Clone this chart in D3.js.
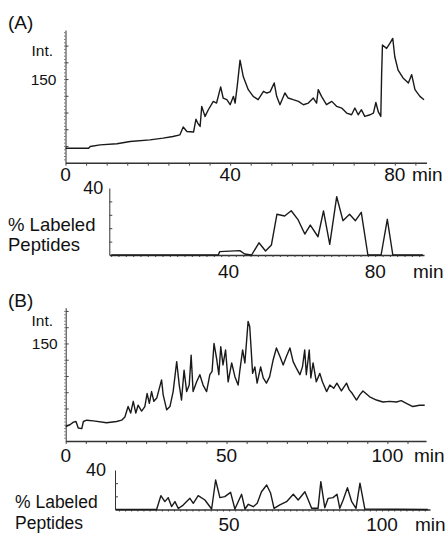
<!DOCTYPE html>
<html>
<head>
<meta charset="utf-8">
<script src="https://cdn.jsdelivr.net/npm/d3@7"></script>
<style>
body { margin: 0; background: #fff; }
svg text { font-family: "Liberation Sans", Arial, Helvetica, sans-serif; fill: #111; }
</style>
</head>
<body>
<svg id="chart" width="448" height="534"></svg>
<script>
// (A) total ion current, min vs intensity
var timeA = [0, 5.6, 6.0, 8.4, 12.5, 15.7, 20.5, 23.7, 26.1, 27.8, 28.6, 29.5, 31.1, 31.7, 32.2, 32.7,
    33.1, 33.9, 34.7, 35.9, 36.7, 37.7, 38.3, 39.2, 40.0, 40.8, 41.2, 41.7, 42.4, 43.2, 44.4, 45.6,
    46.8, 48.1, 48.9, 49.7, 50.7, 51.3, 52.1, 53.3, 54.1, 55.3, 56.6, 57.8, 59.0, 60.2, 61.0, 61.4,
    62.2, 63.4, 64.7, 65.9, 67.1, 68.3, 69.5, 70.3, 71.1, 71.9, 72.7, 74.0, 74.8, 75.4, 76.0, 76.6,
    76.8, 77.0, 78.0, 78.8, 79.5, 80.0, 80.8, 82.0, 83.3, 84.1, 84.9, 86.1, 87.1];
var intA = [26, 26, 29, 32, 34, 38, 41, 44, 47, 50, 64, 56, 55, 78, 70, 65,
    101, 83, 95, 110, 107, 136, 116, 113, 104, 119, 107, 136, 184, 154, 131, 119,
    113, 128, 125, 127, 143, 119, 104, 125, 116, 113, 110, 104, 107, 116, 107, 131,
    119, 104, 110, 101, 98, 89, 86, 98, 86, 95, 83, 86, 89, 108, 91, 83,
    158, 211, 205, 214, 223, 190, 166, 152, 143, 158, 131, 119, 113];

// (A) % labeled peptides
var timeAL = [8, 37.2, 37.6, 43.1, 44.4, 46.3, 48.3, 50.1, 51.7, 53.2, 55.3, 57.1, 58.9, 60.8, 62.3,
    64.4, 65.9, 67.6, 69.5, 71.2, 73.0, 74.6, 76.2, 78.0, 81.6, 83.3, 84.8, 93];
var pctA = [0, 0, 2, 2.6, 0.6, 0, 7.3, 2.4, 6, 24.3, 23.3, 26.4, 21.3, 12.5, 17.9,
    10.9, 26.3, 6.4, 34.8, 20.5, 24.3, 20.5, 25.5, 0, 0, 21.3, 0, 0];

// (B) total ion current
var timeB = [0.0, 1.3, 2.4, 3.2, 3.9, 5.0, 5.5, 6.5, 8.6, 12.7, 15.8, 17.4, 18.4, 19.4, 20.2, 21.0,
    21.8, 22.5, 23.6, 24.6, 25.3, 26.0, 26.7, 27.4, 28.3, 29.1, 29.8, 30.3, 31.4, 32.4, 33.4, 34.5,
    35.3, 36.0, 36.8, 37.6, 38.4, 39.0, 39.6, 40.7, 41.7, 42.7, 43.8, 44.8, 45.5, 46.1, 46.9, 47.6,
    48.2, 48.9, 49.7, 50.5, 51.6, 52.6, 53.6, 54.1, 55.0, 55.7, 56.7, 57.2, 57.5, 58.1, 58.8, 59.5,
    60.6, 61.4, 62.4, 63.4, 64.5, 65.5, 66.6, 67.6, 68.6, 69.7, 70.7, 71.7, 72.8, 73.6, 74.3, 74.8,
    75.7, 76.2, 76.9, 77.9, 79.0, 79.8, 81.1, 82.1, 83.3, 84.3, 85.7, 87.3, 88.1, 89.1, 90.4, 91.4,
    92.4, 94.5, 96.6, 98.6, 100.7, 102.8, 104.3, 105.9, 107.9, 110.0, 111.6];
var intB = [22, 25, 29, 30, 20, 19, 30, 32, 31, 28, 30, 32, 37, 53, 43, 61,
    43, 55, 46, 53, 73, 58, 76, 61, 66, 81, 94, 71, 48, 53, 76, 122,
    86, 63, 109, 76, 86, 132, 76, 91, 102, 86, 76, 102, 107, 150, 127, 102,
    145, 117, 140, 91, 120, 99, 86, 107, 140, 120, 184, 176, 153, 104, 114, 89,
    114, 97, 89, 99, 125, 143, 130, 117, 130, 143, 122, 112, 102, 114, 140, 102,
    140, 97, 120, 91, 104, 91, 76, 86, 81, 89, 77, 89, 79, 73, 63, 71,
    77, 68, 63, 60, 61, 60, 62, 58, 53, 55, 55];

// (B) % labeled peptides
var timeBL = [13, 26.3, 27.7, 29.0, 30.1, 31.2, 32.3, 33.4, 35.0, 37.2, 38.3, 39.9, 42.1, 44.3, 45.6,
    47.0, 48.6, 50.5, 51.9, 54.1, 55.2, 56.3, 57.9, 59.2, 60.6, 62.3, 63.6, 64.7, 66.6, 68.8, 71.0,
    72.6, 74.8, 77.0, 79.1, 80.0, 81.3, 82.4, 84.0, 85.3, 86.2, 87.3, 88.7, 90.1, 91.5, 92.8, 94.4, 115];
var pctB = [0, 0, 14, 8, 12, 3, 8, 1, 4.5, 11.3, 6.3, 14, 9.6, 0.5, 29.9,
    12, 13, 17.4, 0.5, 15.4, 0.5, 5.3, 2.8, 6.3, 18, 24.8, 16.4, 1.2, 4.6, 7.9, 15.4,
    9.6, 18, 1.2, 1.2, 28.2, 1.8, 11.3, 12, 15.4, 1.2, 9.6, 22.1, 7.9, 1.2, 26.6, 0.5, 0];

var labelsA = [0, 40, 80];
var labelsAL = [40, 80];
var labelsB = [0, 50, 100];
var labelsBL = [50, 100];

var svg = d3.select('#chart');

function panel(o) {
    var x = d3.scaleLinear().domain(o.xDomain).range(o.xRange);
    var y = d3.scaleLinear().domain(o.yDomain).range(o.yRange);
    var g = svg.append('g');

    // x axis with minor ticks
    g.append('g')
        .attr('transform', `translate(0,${o.yRange[0]})`)
        .call(d3.axisBottom(x).tickValues(d3.range(o.xDomain[0] + o.xStart, o.xDomain[1], o.xStep))
            .tickSize(o.xTick).tickSizeOuter(0).tickFormat(''))
        .call(a => a.select('.domain').attr('stroke-width', o.axisW).attr('stroke', '#333'))
        .call(a => a.selectAll('.tick line').attr('stroke', '#444'));

    // y axis, ticks pointing inward
    g.append('g')
        .attr('transform', `translate(${o.xRange[0]},0)`)
        .call(d3.axisLeft(y).tickValues(d3.range(o.yStep, o.yDomain[1], o.yStep))
            .tickSize(-o.yTick).tickSizeOuter(0).tickFormat(''))
        .call(a => a.select('.domain').attr('stroke', '#333'))
        .call(a => a.selectAll('.tick line').attr('stroke', '#444'));

    if (o.yMinor) {
        g.append('g')
            .attr('transform', `translate(${o.xRange[0]},0)`)
            .call(d3.axisLeft(y).tickValues(d3.range(o.yMinor, o.yDomain[1], o.yMinor))
                .tickSize(1.5).tickSizeOuter(0).tickFormat(''))
            .call(a => a.select('.domain').remove())
            .call(a => a.selectAll('.tick line').attr('stroke', '#777'));
    }

    var line = d3.line()
        .x(d => x(d[0]))
        .y(d => y(d[1]));

    g.append('path')
        .datum(d3.zip(o.t, o.v))
        .attr('fill', 'none')
        .attr('stroke', '#1a1a1a')
        .attr('stroke-width', 1.4)
        .attr('stroke-linejoin', 'round')
        .attr('d', line);

    // x tick labels
    g.selectAll('.xl')
        .data(o.xLabels)
        .enter()
        .append('text')
        .attr('x', d => x(d))
        .attr('y', o.xLabelY)
        .attr('text-anchor', 'middle')
        .style('font-size', o.xFont + 'px')
        .text(d => d);

    g.append('text')
        .attr('x', o.minX)
        .attr('y', o.xLabelY)
        .style('font-size', o.xFont + 'px')
        .text('min');

    // y tick label
    g.append('text')
        .attr('x', o.xRange[0] - o.yPad)
        .attr('y', y(o.yLabel) + o.yFont * 0.36)
        .attr('text-anchor', 'end')
        .style('font-size', o.yFont + 'px')
        .text(o.yLabel);
    return g;
}

// (A) chromatogram
var gA = panel({
    t: timeA, v: intA,
    xDomain: [0, 87.7], xRange: [65.5, 426.5], xStart: 0, xStep: 5, xTick: 3,
    yDomain: [0, 238], yRange: [162.7, 30], yStep: 30, yTick: 3, yMinor: 6,
    axisW: 1.6, xLabels: labelsA, xLabelY: 181, xFont: 19, minX: 412,
    yLabel: 150, yPad: 9, yFont: 15.5
});
gA.append('text').attr('x', 53).attr('y', 56).attr('text-anchor', 'end')
    .style('font-size', '15.5px').text('Int.');
svg.append('text').attr('x', 8).attr('y', 29).style('font-size', '19px').text('(A)');

// (A) labeled peptides
var gAL = panel({
    t: timeAL, v: pctA,
    xDomain: [7.5, 93.3], xRange: [109.3, 424], xStart: 0.5, xStep: 2, xTick: 2,
    yDomain: [0, 40], yRange: [255, 188], yStep: 8, yTick: 3,
    axisW: 1.3, xLabels: labelsAL, xLabelY: 278, xFont: 19, minX: 413,
    yLabel: 40, yPad: 6, yFont: 18
});
gAL.append('text').attr('x', 8).attr('y', 231).style('font-size', '18.5px').text('% Labeled');
gAL.append('text').attr('x', 8).attr('y', 251).style('font-size', '18.5px').text('Peptides');

// (B) chromatogram
var gB = panel({
    t: timeB, v: intB,
    xDomain: [0, 112], xRange: [65.7, 426], xStart: 0, xStep: 6.25, xTick: 3,
    yDomain: [0, 205], yRange: [441, 307.7], yStep: 25, yTick: 3, yMinor: 5,
    axisW: 1.6, xLabels: labelsB, xLabelY: 462, xFont: 19, minX: 414,
    yLabel: 150, yPad: 8, yFont: 15.5
});
gB.append('text').attr('x', 53).attr('y', 326).attr('text-anchor', 'end')
    .style('font-size', '15.5px').text('Int.');
svg.append('text').attr('x', 8).attr('y', 307).style('font-size', '19px').text('(B)');

// (B) labeled peptides
var gBL = panel({
    t: timeBL, v: pctB,
    xDomain: [12.7, 115.7], xRange: [115, 430], xStart: 1.3, xStep: 2, xTick: 2,
    yDomain: [0, 40], yRange: [509.5, 470], yStep: 40 / 3, yTick: 3,
    axisW: 1.3, xLabels: labelsBL, xLabelY: 531, xFont: 19, minX: 415,
    yLabel: 40, yPad: 9, yFont: 18
});
gBL.append('text').attr('x', 15).attr('y', 508).style('font-size', '17.5px').text('% Labeled');
gBL.append('text').attr('x', 15).attr('y', 529).style('font-size', '17.5px').text('Peptides');
</script>
</body>
</html>
